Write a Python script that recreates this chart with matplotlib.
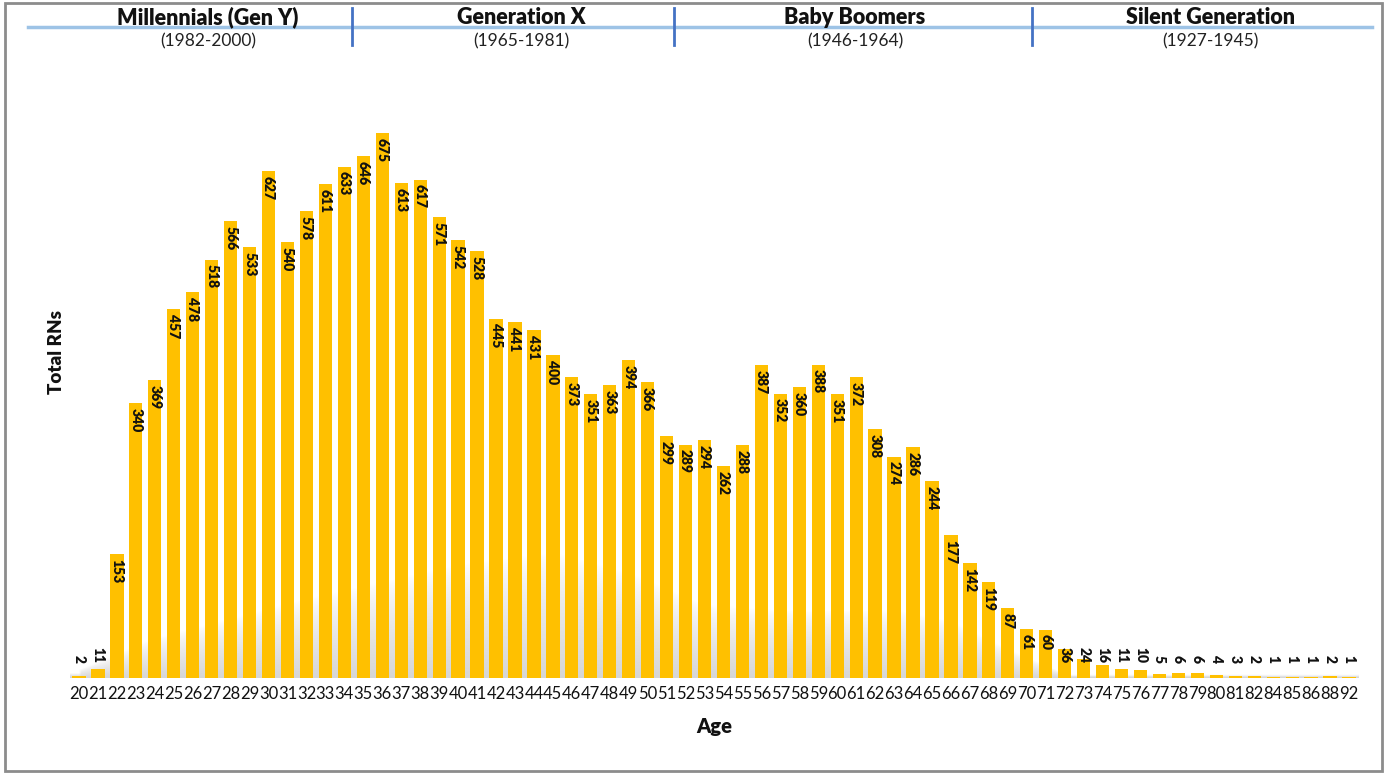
import matplotlib
matplotlib.use("Agg")
import matplotlib.pyplot as plt
import numpy as np
from matplotlib.patches import Rectangle
from matplotlib.lines import Line2D

ages = [str(a) for a in range(20, 82)] + ["82", "84", "85", "86", "88", "92"]
total_rns = [2, 11, 153, 340, 369, 457, 478, 518, 566, 533,
             627, 540, 578, 611, 633, 646, 675, 613, 617, 571,
             542, 528, 445, 441, 431, 400, 373, 351, 363, 394,
             366, 299, 289, 294, 262, 288, 387, 352, 360, 388,
             351, 372, 308, 274, 286, 244, 177, 142, 119, 87,
             61, 60, 36, 24, 16, 11, 10, 5, 6, 6,
             4, 3, 2, 1, 1, 1, 2, 1]
generations = ["Millennials (Gen Y)", "Generation X", "Baby Boomers", "Silent Generation"]
gen_years = ["(1982-2000)", "(1965-1981)", "(1946-1964)", "(1927-1945)"]

W, H = 1388, 773
fig = plt.figure(figsize=(W / 100, H / 100), dpi=100)
fig.patch.set_facecolor("white")

def fx(px):
    return px / W

def fy(py):
    return 1 - py / H

ax = fig.add_axes([fx(69.5), fy(678), (1358.5 - 69.5) / W, (678 - 60) / H])
x = np.arange(len(ages))
ymax = 765

# soft grey shadow behind bars (decorative)
gx = np.linspace(-0.5, len(ages) - 0.5, 500)
gy = np.linspace(0, 220, 160)
GX, GY = np.meshgrid(gx, gy)
prof_x = [0, 3.7, 11.7, 20, 25, 29, 33, 38, 43, 46, 49, 52]
prof_h = [10, 47, 96, 140, 155, 130, 90, 82, 84, 70, 35, 5]
hump = np.interp(GX, prof_x, prof_h, left=5, right=3)
alpha = np.clip(1 - GY / (hump + 1e-6), 0, 1) ** 0.7
img = np.zeros(GX.shape + (4,))
img[..., :3] = 0.80
img[..., 3] = alpha * 0.8
ax.imshow(img, extent=(-0.5, len(ages) - 0.5, 0, 220), origin="lower",
          aspect="auto", zorder=0, interpolation="bilinear")

ax.bar(x, total_rns, width=0.7, color="#FFC000", zorder=2)

for xi, v in zip(x, total_rns):
    if v >= 60:
        ax.text(xi, v - 6, str(v), rotation=270, ha="center", va="top",
                fontsize=10, fontweight="heavy", color="#111111", zorder=3,
                family="Lato")
    else:
        ax.text(xi, 19, str(v), rotation=270, ha="center", va="bottom",
                fontsize=10, fontweight="heavy", color="#111111", zorder=3,
                family="Lato")

ax.set_xlim(-0.5, len(ages) - 0.5)
ax.set_ylim(0, ymax)
ax.set_xticks(x)
ax.set_xticklabels(ages, fontsize=12, family="Lato", color="#111111")
ax.tick_params(axis="x", length=0, pad=6)
ax.set_yticks([])
for s in ax.spines.values():
    s.set_visible(False)
ax.set_facecolor("none")

fig.text(fx(57), fy(352), "Total RNs", rotation=90, ha="center", va="center",
         fontsize=13.5, fontweight="heavy", family="Lato", color="#111111")
fig.text(fx(714), fy(727), "Age", ha="center", va="center",
         fontsize=14.5, fontweight="heavy", family="Lato", color="#111111")

# header
fig.add_artist(Line2D([fx(28), fx(1372)], [fy(27), fy(27)], color="#9DC3E6", lw=2.5))
for dx in [352, 674, 1032]:
    fig.add_artist(Line2D([fx(dx), fx(dx)], [fy(8), fy(45)], color="#4472C4", lw=2))
centers = [208, 521, 855, 1210]
for cx, g, yr in zip(centers, generations, gen_years):
    fig.text(fx(cx), fy(17), g, ha="center", va="center", fontsize=15.5,
             fontweight="heavy", family="Lato", color="#111111")
    fig.text(fx(cx), fy(41), yr, ha="center", va="center", fontsize=12.5,
             family="Lato", color="#222222")

# frame
fig.add_artist(Rectangle((fx(5), fy(771)), fx(1382) - fx(5), fy(3) - fy(771),
                         fill=False, edgecolor="#8c8c8c", lw=2))

fig.savefig("out.png", dpi=100, facecolor="white")
